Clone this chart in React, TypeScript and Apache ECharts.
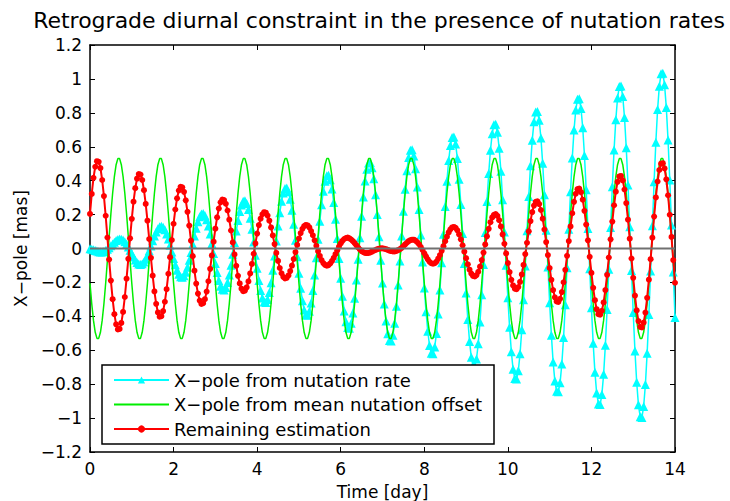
import React, { useEffect, useRef } from "react";
import * as echarts from "echarts";

// Hourly samples (24 per day) from t = 0 to t = 14 days.
const SAMPLES_PER_DAY = 24;
const X_MIN = 0;
const X_MAX = 14;
const X_STEP = 2;
const Y_MIN = -1.2;
const Y_MAX = 1.2;
const Y_STEP = 0.2;

const TITLE = "Retrograde diurnal constraint in the presence of nutation rates";
const X_NAME = "Time [day]";
const Y_NAME = "X\u2212pole [mas]";
const NAME_RATE = "X\u2212pole from nutation rate";
const NAME_OFFSET = "X\u2212pole from mean nutation offset";
const NAME_REMAIN = "Remaining estimation";

const CYAN_VALUES = [
  -0.001,-0.004,-0.007,-0.012,-0.015,-0.019,-0.020,-0.020,-0.017,-0.012,-0.005,0.005,0.016,0.027,0.037,0.047,0.053,0.056,0.055,0.050,0.040,0.027,0.009,-0.010,
  -0.030,-0.050,-0.068,-0.082,-0.091,-0.094,-0.090,-0.080,-0.063,-0.041,-0.014,0.015,0.045,0.073,0.098,0.117,0.128,0.131,0.125,0.110,0.086,0.056,0.019,-0.020,
  -0.059,-0.096,-0.128,-0.152,-0.166,-0.169,-0.160,-0.140,-0.110,-0.070,-0.024,0.025,0.074,0.119,0.158,0.187,0.203,0.207,0.195,0.170,0.133,0.085,0.029,-0.030,
  -0.088,-0.142,-0.188,-0.222,-0.241,-0.244,-0.230,-0.200,-0.156,-0.099,-0.034,0.035,0.103,0.165,0.218,0.257,0.278,0.282,0.265,0.230,0.179,0.114,0.039,-0.040,
  -0.117,-0.188,-0.248,-0.292,-0.316,-0.319,-0.300,-0.260,-0.202,-0.128,-0.044,0.044,0.132,0.211,0.278,0.327,0.354,0.357,0.335,0.291,0.225,0.143,0.049,-0.049,
  -0.146,-0.235,-0.308,-0.362,-0.391,-0.394,-0.370,-0.321,-0.248,-0.157,-0.054,0.054,0.161,0.258,0.338,0.397,0.429,0.432,0.406,0.351,0.271,0.172,0.059,-0.059,
  -0.175,-0.281,-0.368,-0.432,-0.466,-0.470,-0.441,-0.381,-0.294,-0.186,-0.064,0.064,0.190,0.304,0.398,0.467,0.504,0.507,0.476,0.411,0.317,0.201,0.069,-0.069,
  -0.204,-0.327,-0.428,-0.502,-0.542,-0.545,-0.511,-0.441,-0.340,-0.215,-0.074,0.074,0.219,0.350,0.458,0.537,0.579,0.582,0.546,0.471,0.363,0.230,0.079,-0.079,
  -0.233,-0.373,-0.488,-0.572,-0.617,-0.620,-0.581,-0.501,-0.386,-0.244,-0.084,0.084,0.248,0.396,0.519,0.607,0.654,0.657,0.616,0.531,0.409,0.259,0.089,-0.089,
  -0.262,-0.419,-0.549,-0.642,-0.692,-0.695,-0.651,-0.561,-0.433,-0.273,-0.094,0.094,0.277,0.442,0.579,0.677,0.729,0.733,0.686,0.591,0.456,0.288,0.098,-0.099,
  -0.291,-0.465,-0.609,-0.712,-0.767,-0.770,-0.721,-0.621,-0.479,-0.302,-0.103,0.104,0.306,0.488,0.639,0.747,0.805,0.808,0.756,0.651,0.502,0.317,0.108,-0.109,
  -0.320,-0.511,-0.669,-0.782,-0.842,-0.845,-0.791,-0.681,-0.525,-0.331,-0.113,0.114,0.335,0.534,0.699,0.817,0.880,0.883,0.826,0.712,0.548,0.346,0.118,-0.119,
  -0.349,-0.558,-0.729,-0.852,-0.917,-0.920,-0.861,-0.742,-0.571,-0.360,-0.123,0.124,0.364,0.581,0.759,0.887,0.955,0.958,0.896,0.772,0.594,0.375,0.128,-0.129,
  -0.378,-0.604,-0.789,-0.922,-0.992,-0.996,-0.931,-0.802,-0.617,-0.389,-0.133,0.134,0.393,0.627,0.819,0.957,1.030,1.033,0.966,0.832,0.640,0.404,0.138,-0.138,
  -0.407,
];

const GREEN_VALUES = [
  -0.205,-0.326,-0.424,-0.494,-0.530,-0.530,-0.494,-0.424,-0.326,-0.205,-0.070,0.070,0.205,0.326,0.424,0.494,0.530,0.530,0.494,0.424,0.326,0.205,0.070,-0.070,
  -0.205,-0.326,-0.424,-0.494,-0.530,-0.530,-0.494,-0.424,-0.326,-0.205,-0.070,0.070,0.205,0.326,0.424,0.494,0.530,0.530,0.494,0.424,0.326,0.205,0.070,-0.070,
  -0.205,-0.326,-0.424,-0.494,-0.530,-0.530,-0.494,-0.424,-0.326,-0.205,-0.070,0.070,0.205,0.326,0.424,0.494,0.530,0.530,0.494,0.424,0.326,0.205,0.070,-0.070,
  -0.205,-0.326,-0.424,-0.494,-0.530,-0.530,-0.494,-0.424,-0.326,-0.205,-0.070,0.070,0.205,0.326,0.424,0.494,0.530,0.530,0.494,0.424,0.326,0.205,0.070,-0.070,
  -0.205,-0.326,-0.424,-0.494,-0.530,-0.530,-0.494,-0.424,-0.326,-0.205,-0.070,0.070,0.205,0.326,0.424,0.494,0.530,0.530,0.494,0.424,0.326,0.205,0.070,-0.070,
  -0.205,-0.326,-0.424,-0.494,-0.530,-0.530,-0.494,-0.424,-0.326,-0.205,-0.070,0.070,0.205,0.326,0.424,0.494,0.530,0.530,0.494,0.424,0.326,0.205,0.070,-0.070,
  -0.205,-0.326,-0.424,-0.494,-0.530,-0.530,-0.494,-0.424,-0.326,-0.205,-0.070,0.070,0.205,0.326,0.424,0.494,0.530,0.530,0.494,0.424,0.326,0.205,0.070,-0.070,
  -0.205,-0.326,-0.424,-0.494,-0.530,-0.530,-0.494,-0.424,-0.326,-0.205,-0.070,0.070,0.205,0.326,0.424,0.494,0.530,0.530,0.494,0.424,0.326,0.205,0.070,-0.070,
  -0.205,-0.326,-0.424,-0.494,-0.530,-0.530,-0.494,-0.424,-0.326,-0.205,-0.070,0.070,0.205,0.326,0.424,0.494,0.530,0.530,0.494,0.424,0.326,0.205,0.070,-0.070,
  -0.205,-0.326,-0.424,-0.494,-0.530,-0.530,-0.494,-0.424,-0.326,-0.205,-0.070,0.070,0.205,0.326,0.424,0.494,0.530,0.530,0.494,0.424,0.326,0.205,0.070,-0.070,
  -0.205,-0.326,-0.424,-0.494,-0.530,-0.530,-0.494,-0.424,-0.326,-0.205,-0.070,0.070,0.205,0.326,0.424,0.494,0.530,0.530,0.494,0.424,0.326,0.205,0.070,-0.070,
  -0.205,-0.326,-0.424,-0.494,-0.530,-0.530,-0.494,-0.424,-0.326,-0.205,-0.070,0.070,0.205,0.326,0.424,0.494,0.530,0.530,0.494,0.424,0.326,0.205,0.070,-0.070,
  -0.205,-0.326,-0.424,-0.494,-0.530,-0.530,-0.494,-0.424,-0.326,-0.205,-0.070,0.070,0.205,0.326,0.424,0.494,0.530,0.530,0.494,0.424,0.326,0.205,0.070,-0.070,
  -0.205,-0.326,-0.424,-0.494,-0.530,-0.530,-0.494,-0.424,-0.326,-0.205,-0.070,0.070,0.205,0.326,0.424,0.494,0.530,0.530,0.494,0.424,0.326,0.205,0.070,-0.070,
  -0.205,
];

const RED_VALUES = [
  0.204,0.322,0.417,0.482,0.515,0.511,0.474,0.404,0.309,0.193,0.065,-0.065,-0.189,-0.299,-0.387,-0.447,-0.477,-0.474,-0.439,-0.374,-0.286,-0.178,-0.061,0.060,
  0.175,0.276,0.356,0.412,0.439,0.436,0.404,0.344,0.263,0.164,0.056,-0.055,-0.160,-0.253,-0.326,-0.377,-0.402,-0.399,-0.369,-0.314,-0.240,-0.149,-0.051,0.050,
  0.146,0.230,0.296,0.342,0.364,0.361,0.334,0.284,0.216,0.135,0.046,-0.045,-0.131,-0.207,-0.266,-0.307,-0.327,-0.323,-0.299,-0.254,-0.193,-0.120,-0.041,0.040,
  0.117,0.184,0.236,0.272,0.289,0.286,0.264,0.224,0.170,0.106,0.036,-0.035,-0.102,-0.161,-0.206,-0.237,-0.252,-0.248,-0.229,-0.194,-0.147,-0.091,-0.031,0.030,
  0.088,0.138,0.176,0.202,0.214,0.211,0.194,0.164,0.124,0.077,0.026,-0.026,-0.073,-0.115,-0.146,-0.167,-0.176,-0.173,-0.159,-0.133,-0.101,-0.062,-0.021,0.021,
  0.059,0.091,0.116,0.132,0.139,0.136,0.124,0.103,0.078,0.048,0.016,-0.016,-0.044,-0.068,-0.086,-0.097,-0.101,-0.098,-0.088,-0.073,-0.055,-0.033,-0.011,0.011,
  0.030,0.045,0.056,0.062,0.064,0.060,0.053,0.043,0.032,0.019,0.006,-0.006,-0.015,-0.022,-0.026,-0.027,-0.026,-0.023,-0.018,-0.013,-0.009,-0.004,-0.001,0.001,
  0.001,-0.001,-0.004,-0.008,-0.012,-0.015,-0.017,-0.017,-0.014,-0.010,-0.004,0.004,0.014,0.024,0.034,0.043,0.049,0.052,0.052,0.047,0.037,0.025,0.009,-0.009,
  -0.028,-0.047,-0.064,-0.078,-0.087,-0.090,-0.087,-0.077,-0.060,-0.039,-0.014,0.014,0.043,0.070,0.095,0.113,0.124,0.127,0.122,0.107,0.083,0.054,0.019,-0.019,
  -0.057,-0.093,-0.125,-0.148,-0.162,-0.165,-0.157,-0.137,-0.107,-0.068,-0.024,0.024,0.072,0.116,0.155,0.183,0.199,0.203,0.192,0.167,0.130,0.083,0.028,-0.029,
  -0.086,-0.139,-0.185,-0.218,-0.237,-0.240,-0.227,-0.197,-0.153,-0.097,-0.033,0.034,0.101,0.162,0.215,0.253,0.275,0.278,0.262,0.227,0.176,0.112,0.038,-0.039,
  -0.115,-0.185,-0.245,-0.288,-0.312,-0.315,-0.297,-0.257,-0.199,-0.126,-0.043,0.044,0.130,0.208,0.275,0.323,0.350,0.353,0.332,0.288,0.222,0.141,0.048,-0.049,
  -0.144,-0.232,-0.305,-0.358,-0.387,-0.390,-0.367,-0.318,-0.245,-0.155,-0.053,0.054,0.159,0.255,0.335,0.393,0.425,0.428,0.402,0.348,0.268,0.170,0.058,-0.059,
  -0.173,-0.278,-0.365,-0.428,-0.462,-0.466,-0.437,-0.378,-0.291,-0.184,-0.063,0.064,0.188,0.301,0.395,0.463,0.500,0.503,0.472,0.408,0.314,0.199,0.068,-0.068,
  -0.202,
];

const ZERO_LINE = [[X_MIN, 0], [X_MAX, 0]];

const FONT = "'DejaVu Sans', Arial, sans-serif";

function toPoints(values: number[]) {
  return values.map((v, i) => [i / SAMPLES_PER_DAY, v]);
}

function fmtY(v: number) {
  const r = Math.round(v * 10) / 10;
  return (r === 0 ? "0" : String(r)).replace("-", "\u2212");
}

export default function App() {
  const ref = useRef<HTMLDivElement | null>(null);

  useEffect(() => {
    if (!ref.current) return;
    const chart = echarts.init(ref.current, undefined, { renderer: "svg" });

    const axisLine = { show: true, onZero: false, lineStyle: { color: "#000", width: 1.5 } };
    const axisTick = { show: true, inside: true, length: 5, lineStyle: { color: "#000", width: 1 } };
    const labelStyle = { fontFamily: FONT, fontSize: 17, color: "#000" };

    chart.setOption({
      animation: false,
      backgroundColor: "#fff",
      grid: { left: 90, right: 55, top: 45, bottom: 49, containLabel: false, outerBoundsMode: "none" },
      graphic: [
        {
          type: "text",
          x: 379,
          y: 9,
          style: {
            text: TITLE,
            fontFamily: FONT,
            fontSize: 22,
            fill: "#000",
            textAlign: "center",
            textVerticalAlign: "top",
            align: "center",
            verticalAlign: "top",
          },
        },
      ],
      legend: {
        data: [
          { name: NAME_RATE },
          { name: NAME_OFFSET, itemStyle: { color: "rgba(0,0,0,0)", borderColor: "rgba(0,0,0,0)", borderWidth: 0 } },
          { name: NAME_REMAIN },
        ],
        orient: "vertical",
        left: 102,
        top: 365,
        padding: [5, 8, 5, 11],
        itemWidth: 55,
        itemHeight: 9,
        itemGap: 4.5,
        borderColor: "#000",
        borderWidth: 1.5,
        borderRadius: 0,
        backgroundColor: "#fff",
        selectedMode: false,
        textStyle: { fontFamily: FONT, fontSize: 18, color: "#000", width: 312, lineHeight: 20 },
      },
      xAxis: [
        {
          type: "value",
          min: X_MIN,
          max: X_MAX,
          interval: X_STEP,
          position: "bottom",
          axisLine,
          axisTick,
          splitLine: { show: false },
          axisLabel: { ...labelStyle, margin: 8 },
          name: X_NAME,
          nameLocation: "middle",
          nameGap: 31,
          nameTextStyle: { fontFamily: FONT, fontSize: 17, color: "#000" },
        },
        {
          type: "value",
          min: X_MIN,
          max: X_MAX,
          interval: X_STEP,
          position: "top",
          axisLine,
          axisTick,
          splitLine: { show: false },
          axisLabel: { show: false },
        },
      ],
      yAxis: [
        {
          type: "value",
          min: Y_MIN,
          max: Y_MAX,
          interval: Y_STEP,
          position: "left",
          axisLine,
          axisTick,
          splitLine: { show: false },
          axisLabel: { ...labelStyle, margin: 8, formatter: fmtY },
          name: Y_NAME,
          nameLocation: "middle",
          nameGap: 57,
          nameRotate: 90,
          nameTextStyle: { fontFamily: FONT, fontSize: 17, color: "#000" },
        },
        {
          type: "value",
          min: Y_MIN,
          max: Y_MAX,
          interval: Y_STEP,
          position: "right",
          axisLine,
          axisTick,
          splitLine: { show: false },
          axisLabel: { show: false },
        },
      ],
      series: [
        {
          name: NAME_RATE,
          type: "line",
          data: toPoints(CYAN_VALUES),
          symbol: "triangle",
          symbolSize: 9,
          showAllSymbol: true,
          itemStyle: { color: "#00ffff" },
          lineStyle: { color: "#00ffff", width: 1.5 },
          z: 2,
          silent: true,
        },
        {
          name: NAME_OFFSET,
          type: "line",
          data: toPoints(GREEN_VALUES),
          symbol: "none",
          itemStyle: { color: "#00ee00" },
          lineStyle: { color: "#00ee00", width: 1.5 },
          z: 3,
          silent: true,
        },
        {
          name: NAME_REMAIN,
          type: "line",
          data: toPoints(RED_VALUES),
          symbol: "circle",
          symbolSize: 6,
          showAllSymbol: true,
          itemStyle: { color: "#ff0000" },
          lineStyle: { color: "#ff0000", width: 2 },
          z: 4,
          silent: true,
        },
        {
          name: "zero",
          type: "line",
          data: ZERO_LINE,
          symbol: "none",
          lineStyle: { color: "#707070", width: 2 },
          z: 5,
          silent: true,
        },
      ],
    });

    return () => chart.dispose();
  }, []);

  return (
    <div
      ref={ref}
      style={{ position: "fixed", left: 0, top: 0, width: 730, height: 501, background: "#fff" }}
    />
  );
}
